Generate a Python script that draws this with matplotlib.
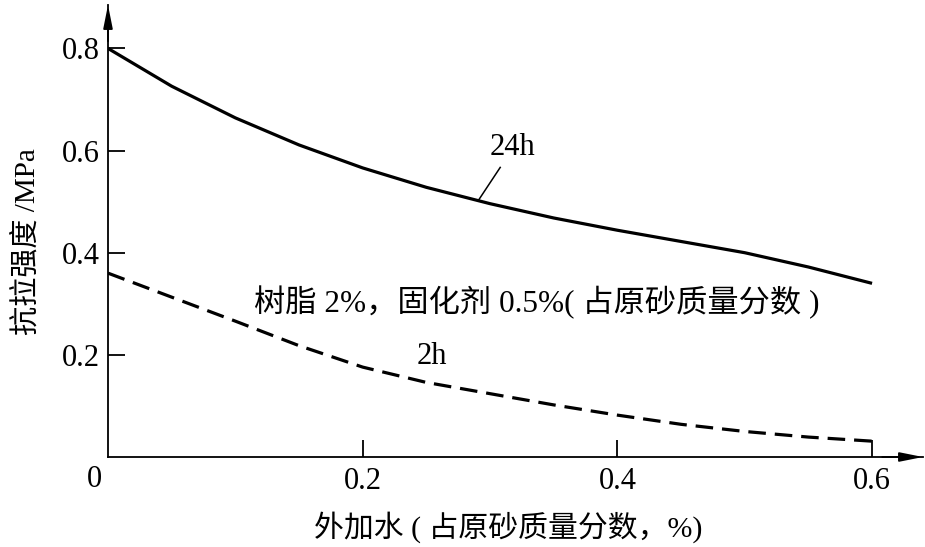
import matplotlib
matplotlib.use("Agg")
import matplotlib.pyplot as plt

plt.rcParams['font.family'] = ['Liberation Serif', 'Noto Sans CJK SC']

# data
x_24h = [0.0, 0.05, 0.10, 0.15, 0.20, 0.25, 0.30, 0.35, 0.40, 0.45, 0.50, 0.55, 0.60]
y_24h = [0.800, 0.726, 0.664, 0.611, 0.566, 0.528, 0.496, 0.468, 0.444, 0.422, 0.400, 0.372, 0.340]
x_2h = [0.0, 0.05, 0.10, 0.15, 0.20, 0.25, 0.30, 0.35, 0.40, 0.45, 0.50, 0.55, 0.60]
y_2h = [0.360, 0.313, 0.266, 0.218, 0.176, 0.146, 0.124, 0.102, 0.082, 0.064, 0.050, 0.039, 0.031]
x_ticks = [0.2, 0.4, 0.6]
x_ticklabels = ["0.2", "0.4", "0.6"]
y_ticks = [0.2, 0.4, 0.6, 0.8]
y_ticklabels = ["0.2", "0.4", "0.6", "0.8"]
label_24h = "24h"
label_2h = "2h"
note = "树脂 2%，固化剂 0.5%( 占原砂质量分数 )"
xlabel = "外加水 ( 占原砂质量分数，%)"
ylabel = "抗拉强度 /MPa"

W, H = 925, 547
fig = plt.figure(figsize=(W / 100, H / 100), dpi=100)
ax = fig.add_axes([108 / W, 1 - 457 / H, (923 - 108) / W, (457 - 5) / H])
ax.set_xlim(0, 0.64)
ax.set_ylim(0, 0.885)

ax.plot(x_24h, y_24h, color='black', lw=2.3, solid_capstyle='butt')
ax.plot(x_2h, y_2h, color='black', lw=2.3, dashes=(5.5, 2.8))

for s in ['top', 'right']:
    ax.spines[s].set_visible(False)
for s in ['left', 'bottom']:
    ax.spines[s].set_linewidth(1.3)

arrow_style = '-|>,head_length=1.4,head_width=0.28'
ax.annotate('', xy=(1.0, 0), xytext=(0.95, 0), xycoords='axes fraction',
            arrowprops=dict(arrowstyle=arrow_style, color='black', lw=1.3,
                            shrinkA=0, shrinkB=0),
            annotation_clip=False)
ax.annotate('', xy=(0, 1.0), xytext=(0, 0.92), xycoords='axes fraction',
            arrowprops=dict(arrowstyle=arrow_style, color='black', lw=1.3,
                            shrinkA=0, shrinkB=0),
            annotation_clip=False)

ax.set_xticks(x_ticks)
ax.set_xticklabels(x_ticklabels)
ax.set_yticks(y_ticks)
ax.set_yticklabels(y_ticklabels)
ax.tick_params(direction='in', length=12, width=1.3, labelsize=22, pad=7)
ax.tick_params(axis='y', pad=6)

ax.text(-0.011, -0.045, "0", fontsize=22, ha='center', va='center')

ax.plot([0.291, 0.308], [0.503, 0.567], color='black', lw=1.1)
ax.text(0.318, 0.606, label_24h, fontsize=22, ha='center', va='center')
ax.text(0.2545, 0.196, label_2h, fontsize=22, ha='center', va='center')
ax.text(0.115, 0.303, note, fontsize=22.5, ha='left', va='center')

fig.text(508 / W, 1 - 527 / H, xlabel, fontsize=21.5, ha='center', va='center')
fig.text(27 / W, 1 - 242 / H, ylabel, fontsize=21, ha='center', va='center',
         rotation=90)

fig.savefig('out.png', dpi=100)
